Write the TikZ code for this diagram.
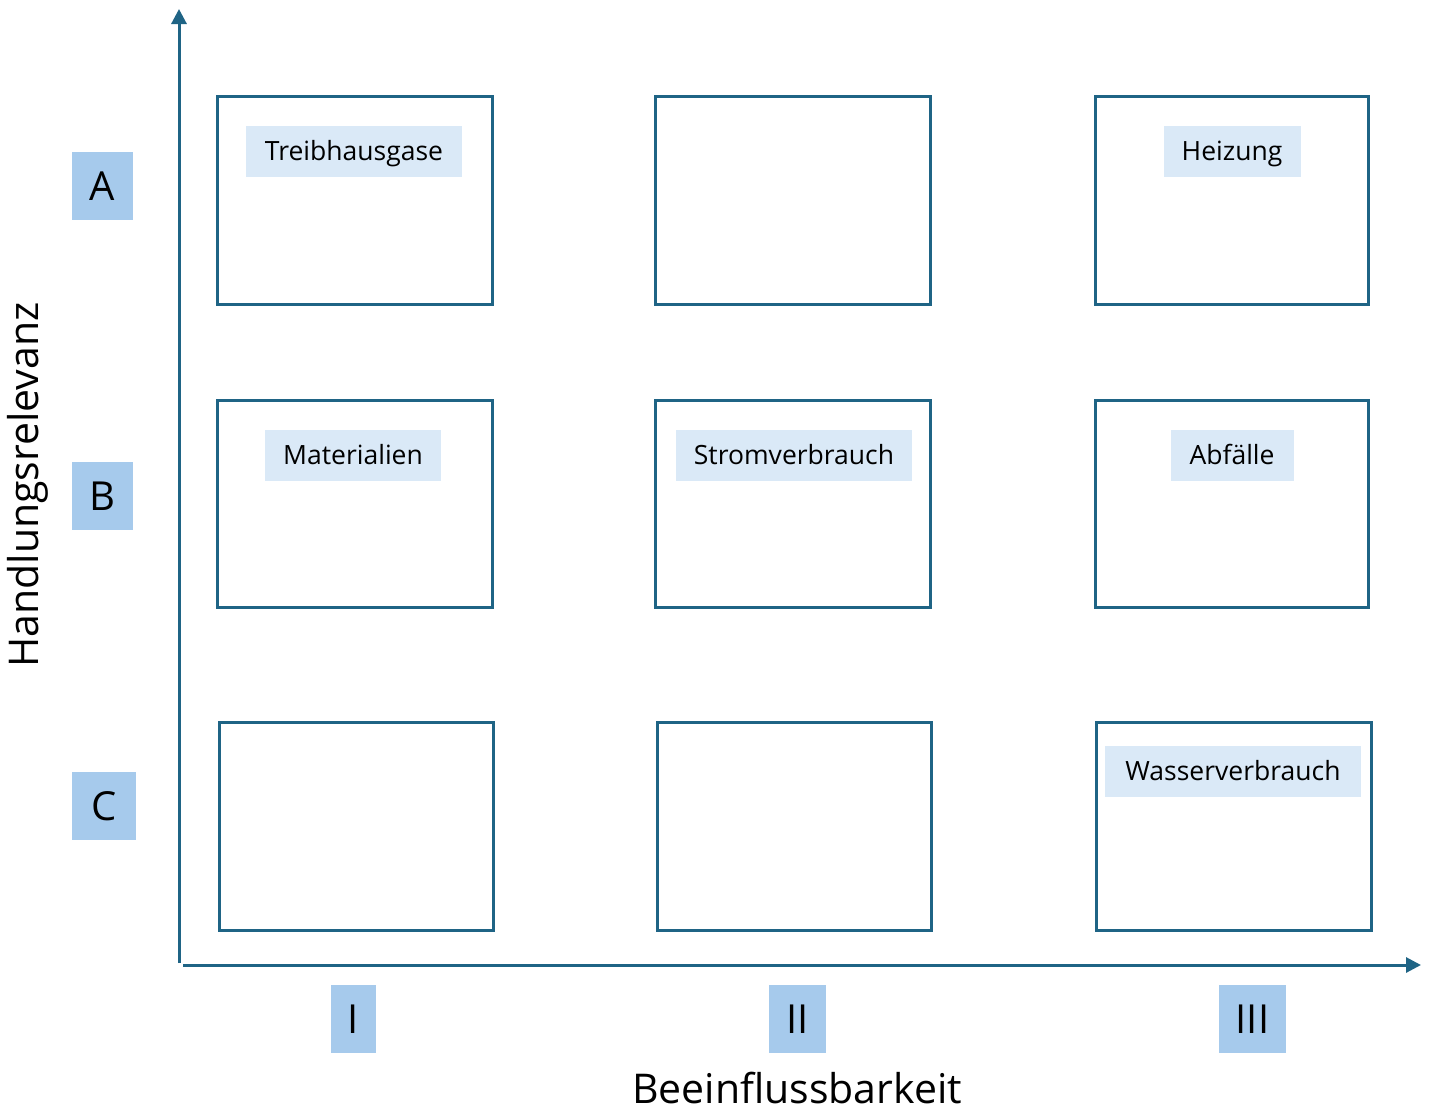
\documentclass[tikz,border=0pt]{standalone}
\usepackage{fontspec}
\setmainfont{Open Sans}
\usetikzlibrary{arrows.meta}
\definecolor{axisblue}{RGB}{31,100,133}
\definecolor{lblblue}{RGB}{166,202,236}
\definecolor{tagblue}{RGB}{218,233,247}
\begin{document}
\begin{tikzpicture}[x=1pt,y=-1pt,
  cellbox/.style={draw=axisblue,line width=3pt,fill=none},
  tagbox/.style={fill=tagblue,inner sep=0pt,minimum height=51pt,text height=19pt,text depth=0pt,font=\fontsize{26.5}{30}\selectfont},
  lettbox/.style={fill=lblblue,inner sep=0pt,minimum height=68pt,font=\fontsize{40}{44}\selectfont},
  axisline/.style={draw=axisblue,line width=3pt,-{Triangle[length=15pt,width=15pt]}},
  axtitle/.style={font=\fontsize{41}{46}\selectfont}]
\useasboundingbox (0,0) rectangle (1432,1111);
% cells
\draw[cellbox] (217,96) rectangle (492,304);
\draw[cellbox] (655,96) rectangle (930,304);
\draw[cellbox] (1095,96) rectangle (1368,304);
\draw[cellbox] (217,400) rectangle (492,607);
\draw[cellbox] (655,400) rectangle (930,607);
\draw[cellbox] (1095,400) rectangle (1368,607);
\draw[cellbox] (219,722) rectangle (493,930);
\draw[cellbox] (657,722) rectangle (931,930);
\draw[cellbox] (1096,722) rectangle (1371,930);
% tags
\node[tagbox,minimum width=216pt] (t1) at (354,151) {Treibhausgase};
\node[tagbox,minimum width=137pt] (t2) at (1232,151) {Heizung};
\node[tagbox,minimum width=176pt] (t3) at (353,455) {Materialien};
\node[tagbox,minimum width=236pt] (t4) at (794,455) {Stromverbrauch};
\node[tagbox,minimum width=123pt] (t5) at (1232,455) {Abfälle};
\node[tagbox,minimum width=256pt] (t6) at (1233,771) {Wasserverbrauch};
% letter labels
\node[lettbox,minimum width=61pt] (la) at (102.5,186) {A};
\node[lettbox,minimum width=61pt] (lb) at (102.5,496) {B};
\node[lettbox,minimum width=64pt] (lc) at (104,806) {C};
\node[lettbox,minimum width=45pt] (l1) at (353.5,1019) {I};
\node[lettbox,minimum width=57pt] (l2) at (797.5,1019) {II};
\node[lettbox,minimum width=67pt] (l3) at (1252.5,1019) {III};
% axes
\coordinate (yo) at (179,963);
\coordinate (ytop) at (179,9);
\coordinate (xo) at (183,965);
\coordinate (xend) at (1421,965);
\draw[axisline] (yo) -- (ytop);
\draw[axisline] (xo) -- (xend);
\node[axtitle,rotate=90] (ytitle) at (28,485) {Handlungsrelevanz};
\node[axtitle] (xtitle) at (797,1088) {Beeinflussbarkeit};
\end{tikzpicture}
\end{document}
